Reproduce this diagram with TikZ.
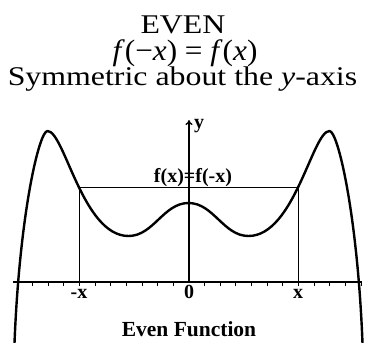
\documentclass[tikz,border=0pt]{standalone}
\usepackage{fontspec}
\setmainfont{Liberation Serif}
\newfontfamily\titlefont[FakeStretch=1.18]{Liberation Serif}
\newfontfamily\eqfont[FakeStretch=1.06]{Liberation Serif}
\usetikzlibrary{arrows.meta}
\begin{document}
\begin{tikzpicture}[x=1pt,y=-1pt,
  title/.style={anchor=base,inner sep=0pt,font=\titlefont\fontsize{27}{29}\selectfont},
  eqn/.style={anchor=base,inner sep=0pt,font=\eqfont\fontsize{29.5}{31}\selectfont},
  lab/.style={anchor=base,inner sep=0pt,font=\bfseries\fontsize{20}{22}\selectfont},
  caption/.style={anchor=base,inner sep=0pt,font=\bfseries\fontsize{21.5}{23}\selectfont},
  curve/.style={line width=2.4pt,line join=round},
  axis/.style={line width=1.3pt},
  guide/.style={line width=0.9pt},
  tick/.style={line width=0.9pt},
]
\useasboundingbox (0,0) rectangle (365,343);
% titles
\node[title] (t1) at (183,33.5) {EVEN};
\node[eqn] (t2) at (185,60) {\textit{f}(−\textit{x}) = \textit{f}(\textit{x})};
\node[title] (t3) at (182.5,85) {Symmetric about the \textit{y}-axis};
% coordinates
\coordinate (o) at (189,282);
\coordinate (xl) at (13,282);
\coordinate (xr) at (362,282);
\coordinate (ytop) at (189,120);
\coordinate (pl) at (79,187);
\coordinate (pr) at (298,187);
\coordinate (fl) at (79,282);
\coordinate (fr) at (298,282);
% axes
\draw[axis] (xl) -- (xr);
\foreach \k in {-11,...,-1,1,2,...,11}
  \draw[tick] ({189+15.64*\k},282) -- ++(0,3.5);
\draw[axis,-{To[length=5pt,width=7pt]}] (o) -- (ytop);
% guides
\draw[guide] (pl) -- (pr);
\draw[guide] (pl) -- (fl);
\draw[guide] (pr) -- (fr);
% curve
\draw[curve] (14.5,343) .. controls (19.5,215) and (39,131) .. (47.5,131)
  .. controls (64.5,131) and (82.5,236) .. (128.5,236)
  .. controls (153.5,236) and (163.5,203) .. (188.5,203)
  .. controls (213.5,203) and (223.5,236) .. (248.5,236)
  .. controls (294.5,236) and (312.5,131) .. (329.5,131)
  .. controls (338,131) and (357.5,215) .. (362.5,343);
% labels
\node[lab,anchor=base west] (ly) at (194,128) {y};
\node[lab] (lf) at (193,182) {f(x)=f(-x)};
\node[lab] (lmx) at (79,298) {-x};
\node[lab] (l0) at (189,298) {0};
\node[lab] (lx) at (298,298) {x};
\node[caption] (cap) at (189,336) {Even Function};
\end{tikzpicture}
\end{document}
